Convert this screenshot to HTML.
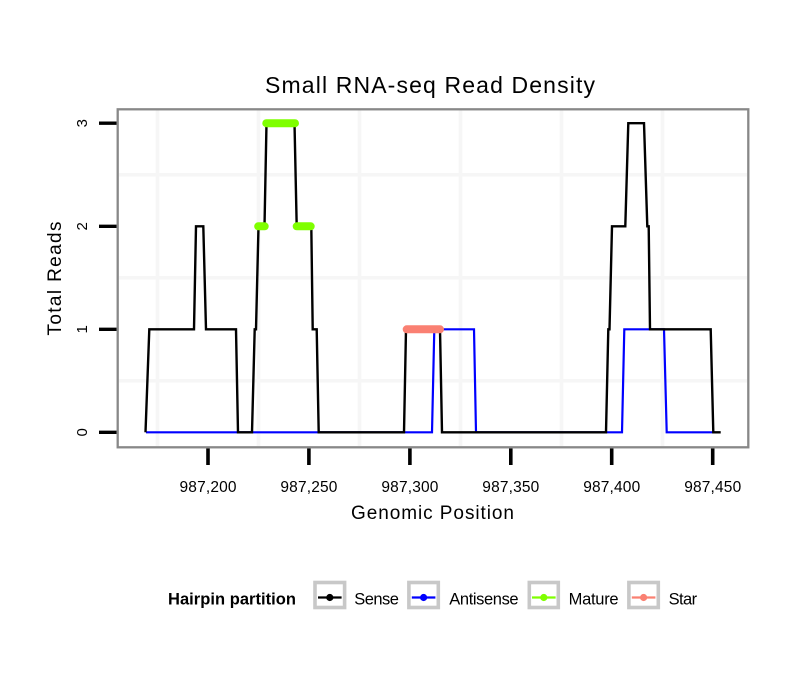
<!DOCTYPE html>
<html>
<head>
<meta charset="utf-8">
<style>
  html, body { margin: 0; padding: 0; background: #ffffff; }
  body { width: 810px; height: 690px; overflow: hidden; }
  svg { display: block; }
  text { font-family: "Liberation Sans", Arial, Helvetica, sans-serif; fill: #000; }
</style>
</head>
<body>
<svg width="810" height="690" viewBox="0 0 810 690" xmlns="http://www.w3.org/2000/svg">
  <rect x="0" y="0" width="810" height="690" fill="#ffffff"/>

  <!-- Title -->
  <text x="265" y="93" font-size="23" textLength="330" lengthAdjust="spacing">Small RNA-seq Read Density</text>

  <!-- Panel background -->
  <rect x="117.7" y="109.3" width="630.6" height="338" fill="#ffffff"/>

  <!-- minor gridlines -->
  <g stroke="#f6f6f6" stroke-width="3.5">
    <line x1="157.5" y1="110.5" x2="157.5" y2="446"/>
    <line x1="258.5" y1="110.5" x2="258.5" y2="446"/>
    <line x1="359.5" y1="110.5" x2="359.5" y2="446"/>
    <line x1="460.5" y1="110.5" x2="460.5" y2="446"/>
    <line x1="561.5" y1="110.5" x2="561.5" y2="446"/>
    <line x1="662.5" y1="110.5" x2="662.5" y2="446"/>
    <line x1="119" y1="174.7" x2="747" y2="174.7"/>
    <line x1="119" y1="277.7" x2="747" y2="277.7"/>
    <line x1="119" y1="380.8" x2="747" y2="380.8"/>
  </g>

  <!-- Antisense (blue) -->
  <polyline fill="none" stroke="#0000ff" stroke-width="2.2" stroke-linejoin="miter"
    points="146,432.3 432,432.3 434.3,329.3 474,329.3 476,432.3 622,432.3 624.3,329.3 664,329.3 666.7,432.3 712.7,432.3"/>

  <!-- Sense (black) -->
  <polyline fill="none" stroke="#000000" stroke-width="2.4" stroke-linejoin="miter"
    points="145.5,432.3 149.3,329.3 194,329.3 196,226.3 203.3,226.3 206,329.3 236,329.3 238,432.3 252,432.3 254.7,329.3 256,329.3 258.5,226.3 264.5,226.3 266.5,123.2 294.5,123.2 296.7,226.3 311.3,226.3 312.7,329.3 316.7,329.3 318.7,432.3 404,432.3 406,329.3 440,329.3 442,432.3 606,432.3 608.3,329.3 609.5,329.3 612,226.3 625.3,226.3 628.3,123.2 644,123.2 647.3,226.3 648.7,226.3 650,329.3 710.7,329.3 713.3,432.3 720.7,432.3"/>

  <!-- Mature (green) -->
  <g stroke="#7fff00" stroke-width="8" stroke-linecap="round">
    <line x1="266.3" y1="123.2" x2="295" y2="123.2"/>
    <line x1="258.2" y1="226.3" x2="264.7" y2="226.3"/>
    <line x1="296.7" y1="226.3" x2="310.7" y2="226.3"/>
  </g>

  <!-- Star (salmon) -->
  <line x1="406.7" y1="329.3" x2="440" y2="329.3" stroke="#fa8072" stroke-width="8" stroke-linecap="round"/>

  <!-- Panel border -->
  <rect x="117.7" y="109.3" width="630.6" height="338" fill="none" stroke="#888888" stroke-width="2.3"/>

  <!-- Y ticks -->
  <g stroke="#000" stroke-width="3.4">
    <line x1="99" y1="123.2" x2="116.5" y2="123.2"/>
    <line x1="99" y1="226.3" x2="116.5" y2="226.3"/>
    <line x1="99" y1="329.3" x2="116.5" y2="329.3"/>
    <line x1="99" y1="432.3" x2="116.5" y2="432.3"/>
  </g>
  <g font-size="15" text-anchor="middle">
    <text transform="translate(87,123.2) rotate(-90)">3</text>
    <text transform="translate(87,226.3) rotate(-90)">2</text>
    <text transform="translate(87,329.3) rotate(-90)">1</text>
    <text transform="translate(87,432.3) rotate(-90)">0</text>
  </g>

  <!-- X ticks -->
  <g stroke="#000" stroke-width="3.6">
    <line x1="208" y1="448.5" x2="208" y2="465"/>
    <line x1="308.9" y1="448.5" x2="308.9" y2="465"/>
    <line x1="409.9" y1="448.5" x2="409.9" y2="465"/>
    <line x1="510.8" y1="448.5" x2="510.8" y2="465"/>
    <line x1="611.7" y1="448.5" x2="611.7" y2="465"/>
    <line x1="712.7" y1="448.5" x2="712.7" y2="465"/>
  </g>
  <g font-size="15.5">
    <text x="179.5" y="492" textLength="57" lengthAdjust="spacing">987,200</text>
    <text x="280.4" y="492" textLength="57" lengthAdjust="spacing">987,250</text>
    <text x="381.4" y="492" textLength="57" lengthAdjust="spacing">987,300</text>
    <text x="482.3" y="492" textLength="57" lengthAdjust="spacing">987,350</text>
    <text x="583.2" y="492" textLength="57" lengthAdjust="spacing">987,400</text>
    <text x="684.2" y="492" textLength="57" lengthAdjust="spacing">987,450</text>
  </g>

  <!-- Axis titles -->
  <text x="351" y="519" font-size="19" textLength="163" lengthAdjust="spacing">Genomic Position</text>
  <text transform="translate(61,278.5) rotate(-90)" font-size="19" text-anchor="middle" textLength="114" lengthAdjust="spacing">Total Reads</text>

  <!-- Legend -->
  <text x="168" y="604.5" font-size="16.5" font-weight="bold" textLength="128" lengthAdjust="spacing">Hairpin partition</text>

  <g stroke="#c8c8c8" stroke-width="3.6" fill="#ffffff">
    <rect x="315" y="582.5" width="29.6" height="25"/>
    <rect x="408.9" y="582.5" width="29.4" height="25"/>
    <rect x="529.3" y="582.5" width="29" height="25"/>
    <rect x="628.9" y="582.5" width="29.4" height="25"/>
  </g>

  <g stroke-width="2.3">
    <line x1="318" y1="597.5" x2="341.6" y2="597.5" stroke="#000000"/>
    <circle cx="329.8" cy="597.5" r="3.6" fill="#000000" stroke="none"/>
    <line x1="411.8" y1="597.5" x2="435.4" y2="597.5" stroke="#0000ff"/>
    <circle cx="423.6" cy="597.5" r="3.6" fill="#0000ff" stroke="none"/>
    <line x1="532" y1="597.5" x2="555.6" y2="597.5" stroke="#7fff00"/>
    <circle cx="543.8" cy="597.5" r="3.6" fill="#7fff00" stroke="none"/>
    <line x1="631.8" y1="597.5" x2="655.4" y2="597.5" stroke="#fa8072"/>
    <circle cx="643.6" cy="597.5" r="3.6" fill="#fa8072" stroke="none"/>
  </g>

  <g font-size="16.5">
    <text x="354.3" y="604.5" textLength="44.6" lengthAdjust="spacing">Sense</text>
    <text x="449.3" y="604.5" textLength="69.3" lengthAdjust="spacing">Antisense</text>
    <text x="568.6" y="604.5" textLength="50" lengthAdjust="spacing">Mature</text>
    <text x="668.6" y="604.5" textLength="28.5" lengthAdjust="spacing">Star</text>
  </g>
</svg>
</body>
</html>
